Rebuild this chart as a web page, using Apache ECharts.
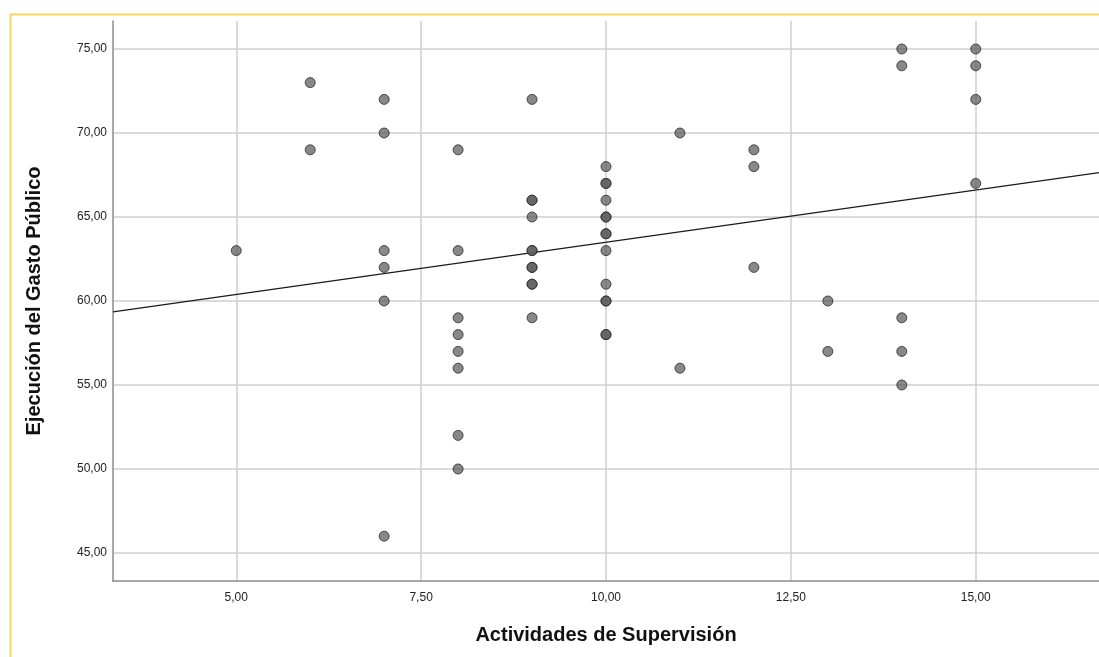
<!DOCTYPE html>
<html>
<head>
<meta charset="utf-8">
<script src="https://cdn.jsdelivr.net/npm/echarts@6/dist/echarts.min.js"></script>
<style>
html,body{margin:0;padding:0;background:#fff;}
#chart{width:1099px;height:657px;}
</style>
</head>
<body>
<div id="chart"></div>
<script>
// Data
const xValues = [5, 6, 6, 7, 7, 7, 7, 7, 7,
  8, 8, 8, 8, 8, 8, 8, 8,
  9, 9, 9, 9, 9, 9, 9, 9, 9, 9, 9,
  10, 10, 10, 10, 10, 10, 10, 10, 10, 10, 10, 10, 10, 10,
  11, 11, 12, 12, 12, 13, 13,
  14, 14, 14, 14, 14, 15, 15, 15, 15];
const yValues = [63, 73, 69, 72, 70, 63, 62, 60, 46,
  69, 63, 59, 58, 57, 56, 52, 50,
  72, 66, 66, 65, 63, 63, 62, 62, 61, 61, 59,
  68, 67, 67, 66, 65, 65, 64, 64, 63, 61, 60, 60, 58, 58,
  70, 56, 69, 68, 62, 60, 57,
  75, 74, 59, 57, 55, 75, 74, 72, 67];
const fitLineX = [3.3333, 16.6667];
const fitLineY = [59.35, 67.64];
const xTicks = [5, 7.5, 10, 12.5, 15];
const yTicks = [45, 50, 55, 60, 65, 70, 75];
const xRange = [3.3333, 16.6667];
const yRange = [43.3333, 76.6667];

const fmt = v => Number(v).toFixed(2).replace('.', ',');
const points = xValues.map((x, i) => [x, yValues[i]]);
const gridMarks = xTicks.map(v => ({xAxis: v})).concat(yTicks.map(v => ({yAxis: v})));

const chart = echarts.init(document.getElementById('chart'), null, {renderer: 'canvas'});
chart.setOption({
  animation: false,
  backgroundColor: '#fff',
  graphic: [{
    type: 'rect', z: -10, silent: true,
    shape: {x: 10.5, y: 14.5, width: 1200, height: 1000},
    style: {fill: 'none', stroke: '#fcd665', lineWidth: 2}
  }],
  grid: {left: 113, top: 21, right: 0, bottom: 76, containLabel: false},
  xAxis: {
    type: 'value', min: xRange[0], max: xRange[1],
    name: 'Actividades de Supervisión', nameLocation: 'middle', nameGap: 44,
    nameTextStyle: {fontFamily: 'Liberation Sans, Arial, sans-serif', fontSize: 20, fontWeight: 'bold', color: '#111'},
    axisLine: {show: true, lineStyle: {color: '#8c8c8c', width: 1.5}},
    axisTick: {show: false},
    splitLine: {show: false},
    axisLabel: {customValues: xTicks, formatter: fmt, margin: 11, fontFamily: 'Liberation Sans, Arial, sans-serif', fontSize: 12, color: '#222'}
  },
  yAxis: {
    type: 'value', min: yRange[0], max: yRange[1],
    name: 'Ejecución del Gasto Público', nameLocation: 'middle', nameGap: 69, nameRotate: 90,
    nameTextStyle: {fontFamily: 'Liberation Sans, Arial, sans-serif', fontSize: 20, fontWeight: 'bold', color: '#111'},
    axisLine: {show: true, lineStyle: {color: '#8c8c8c', width: 1.5}},
    axisTick: {show: false},
    splitLine: {show: false},
    axisLabel: {customValues: yTicks, formatter: fmt, margin: 6, padding: [3, 0, 0, 0], fontFamily: 'Liberation Sans, Arial, sans-serif', fontSize: 12, color: '#222'}
  },
  series: [
    {
      type: 'line', data: [], silent: true, z: 0,
      markLine: {
        silent: true, symbol: 'none', label: {show: false}, z: 0,
        lineStyle: {color: '#cfcfcf', width: 1.5, type: 'solid'},
        data: gridMarks, animation: false
      }
    },
    {
      type: 'line', data: fitLineX.map((x, i) => [x, fitLineY[i]]),
      showSymbol: false, symbol: 'none', silent: true, z: 3,
      lineStyle: {color: '#1a1a1a', width: 1.2}
    },
    {
      type: 'scatter', data: points, symbol: 'circle', symbolSize: 10, z: 6,
      itemStyle: {color: 'rgba(90,90,90,0.9)', borderColor: '#2a2a2a', borderWidth: 1}
    }
  ]
});
</script>
</body>
</html>
